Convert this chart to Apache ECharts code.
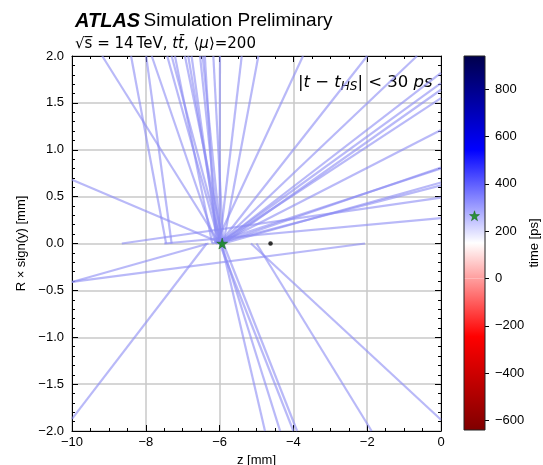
<!DOCTYPE html>
<html>
<head>
<meta charset="utf-8">
<script src="https://cdn.jsdelivr.net/npm/echarts@6/dist/echarts.min.js"></script>
<style>html,body{margin:0;padding:0;background:#fff}#c{width:543px;height:465px}</style>
</head>
<body>
<div id="c"></div>
<script>
// Tracks: start point (z at R=0) and end point (z, R)
var trackZ0 = [-6.0,-7.45,-7.3,-6.1,-6.0,-5.95,-6.2,-5.9,-6.0,-6.05,-6.0,-5.95,-6.1,-5.9,-6.0,-6.0,-5.9,-6.1,-6.0,-6.0,
               -6.0,-6.0,-5.9,-6.0,-6.0,-6.0,-6.2,-5.9,-6.1,-8.65,-7.5,
               -5.93,-6.3,-2.06,-6.35,
               -5.95,-5.95,-6.0,-5.9,-5.0,-5.15];
var trackZ1 = [-9.18,-8.40,-7.99,-7.84,-7.42,-7.30,-7.21,-6.94,-6.85,-6.76,-6.53,-6.46,-6.40,-6.17,-5.99,-5.40,-4.95,-3.74,-2.0,-0.65,
               0,0,0,0,0,0,0,0,0,0,0,
               -10,-10,-10,-10,
               -4.77,-4.36,-4.00,-3.90,-1.88,0];
var trackR1 = [2,2,2,2,2,2,2,2,2,2,2,2,2,2,2,2,2,2,2,2,
               1.82,1.71,1.64,1.55,1.21,0.81,0.80,0.65,0.62,0.49,0.27,
               0.68,-0.41,-0.41,-1.87,
               -2,-2,-2,-2,-2,-1.88];
var hsVertex = [-5.93, 0.0];
var recoVertex = [-4.62, 0.0];
var hsTime = 265;
var timeMin = -640, timeMax = 940;
var cbTicks = [-600,-400,-200,0,200,400,600,800];

var tracks = trackZ0.map(function(z0,i){ return {coords:[[z0,0],[trackZ1[i],trackR1[i]]]}; });
var starPath = 'path://M50,0 L61.2,34.5 L97.6,34.5 L68.2,55.9 L79.4,90.5 L50,69.1 L20.6,90.5 L31.8,55.9 L2.4,34.5 L38.8,34.5 Z';
var minus = function(s){ return String(s).replace('-', '\u2212'); };
var lab = {fontFamily:'Liberation Sans, Arial, sans-serif', fontSize:13, color:'#000'};

var chart = echarts.init(document.getElementById('c'), null, {renderer:'canvas'});
chart.setOption({
  animation:false,
  backgroundColor:'#fff',
  grid:[
    {left:72, right:102, top:56, bottom:34, show:false, containLabel:false, outerBoundsMode:'none'},
    {left:464, right:58, top:56, bottom:35, show:true, borderColor:'#222', borderWidth:1, backgroundColor:'transparent', z:5, containLabel:false, outerBoundsMode:'none'}
  ],
  xAxis:[
    {type:'value', gridIndex:0, min:-10, max:0, interval:2, position:'bottom',
     name:'z [mm]', nameLocation:'middle', nameGap:22, nameTextStyle:lab,
     axisLine:{onZero:false, lineStyle:{color:'#000', width:1}},
     axisTick:{inside:true, length:6, lineStyle:{color:'#000'}},
     minorTick:{show:true, splitNumber:4, length:3, lineStyle:{color:'#000'}},
     axisLabel:Object.assign({margin:5, formatter:function(v){return minus(v);}}, lab),
     splitLine:{show:true, lineStyle:{color:'#c8c8c8', width:1.5}}},
    {type:'value', gridIndex:0, min:-10, max:0, interval:2, position:'top',
     axisLine:{onZero:false, lineStyle:{color:'#000', width:1}},
     axisTick:{inside:true, length:6, lineStyle:{color:'#000'}},
     minorTick:{show:true, splitNumber:4, length:3, lineStyle:{color:'#000'}},
     axisLabel:{show:false}, splitLine:{show:false}},
    {type:'category', gridIndex:1, data:['cb'], show:false}
  ],
  yAxis:[
    {type:'value', gridIndex:0, min:-2, max:2, interval:0.5, position:'left',
     name:'R \u00d7 sign(y) [mm]', nameLocation:'middle', nameGap:42, nameTextStyle:lab,
     axisLine:{onZero:false, lineStyle:{color:'#000', width:1}},
     axisTick:{inside:true, length:6, lineStyle:{color:'#000'}},
     minorTick:{show:true, splitNumber:5, length:3, lineStyle:{color:'#000'}},
     axisLabel:Object.assign({margin:8, formatter:function(v){return minus(v.toFixed(1));}}, lab),
     splitLine:{show:true, lineStyle:{color:'#c8c8c8', width:1.5}}},
    {type:'value', gridIndex:0, min:-2, max:2, interval:0.5, position:'right',
     axisLine:{onZero:false, lineStyle:{color:'#000', width:1}},
     axisTick:{inside:true, length:6, lineStyle:{color:'#000'}},
     minorTick:{show:true, splitNumber:5, length:3, lineStyle:{color:'#000'}},
     axisLabel:{show:false}, splitLine:{show:false}},
    {type:'value', gridIndex:1, min:timeMin, max:timeMax, position:'right',
     name:'time [ps]', nameLocation:'middle', nameRotate:90, nameGap:36, nameTextStyle:lab,
     axisLine:{show:false},
     axisTick:{show:true, inside:false, length:4, customValues:cbTicks, lineStyle:{color:'#000'}},
     axisLabel:Object.assign({margin:10, customValues:cbTicks, formatter:function(v){return minus(v);}}, lab),
     splitLine:{show:false}}
  ],
  series:[
    {type:'lines', coordinateSystem:'cartesian2d', xAxisIndex:0, yAxisIndex:0, polyline:false, clip:true,
     lineStyle:{color:'#8a8af3', width:2.2, opacity:0.6}, data:tracks, z:3},
    {type:'scatter', xAxisIndex:0, yAxisIndex:0, symbol:'circle', symbolSize:4.5,
     itemStyle:{color:'#000'}, data:[recoVertex], z:4},
    {type:'scatter', xAxisIndex:0, yAxisIndex:0, symbol:starPath, symbolSize:11,
     itemStyle:{color:'#0a8a0a', borderColor:'#055505', borderWidth:0.5}, data:[hsVertex], z:6},
    {type:'bar', xAxisIndex:2, yAxisIndex:2, barWidth:'100%', barGap:'-100%', data:[timeMax],
     itemStyle:{color:{type:'linear', x:0, y:0, x2:0, y2:1, colorStops:[
       {offset:0, color:'#00004c'}, {offset:0.42, color:'#0000ff'}, {offset:0.84, color:'#ffffff'}, {offset:1, color:'#ff9e9e'}]}}},
    {type:'bar', xAxisIndex:2, yAxisIndex:2, barWidth:'100%', barGap:'-100%', data:[timeMin],
     itemStyle:{color:{type:'linear', x:0, y:0, x2:0, y2:1, colorStops:[
       {offset:0, color:'#ff9e9e'}, {offset:0.383, color:'#ff0000'}, {offset:1, color:'#800000'}]}}},
    {type:'scatter', xAxisIndex:2, yAxisIndex:2, symbol:starPath, symbolSize:10,
     itemStyle:{color:'#0a8a0a', borderColor:'#055505', borderWidth:0.5}, data:[['cb', hsTime]], z:10}
  ],
  graphic:[
    {type:'text', left:75, top:11, style:{
      text:'{a|ATLAS} {b|Simulation Preliminary}',
      rich:{a:{fontFamily:'Liberation Sans, Arial', fontWeight:'bold', fontStyle:'italic', fontSize:20, fill:'#000'},
            b:{fontFamily:'Liberation Sans, Arial', fontSize:19, fill:'#000'}}}},
    {type:'text', left:75, top:37, style:{
      text:'\u221as\u0305 = 14\u2009TeV, {i|t}{i|t\u0304}, \u27e8{i|\u03bc}\u27e9=200',
      font:'15px "DejaVu Sans"', fill:'#000',
      rich:{i:{fontFamily:'DejaVu Sans', fontStyle:'italic', fontSize:15, fill:'#000'}}}},
    {type:'text', left:298, top:74, style:{
      text:'|{i|t} \u2212 {i|t}{s|HS}| < 30 {i|ps}',
      font:'16.5px "DejaVu Sans"', fill:'#000',
      rich:{i:{fontFamily:'DejaVu Sans', fontStyle:'italic', fontSize:16.5, fill:'#000'},
            s:{fontFamily:'DejaVu Sans', fontStyle:'italic', fontSize:12, fill:'#000', padding:[8,0,0,0]}}}}
  ]
});
</script>
</body>
</html>
